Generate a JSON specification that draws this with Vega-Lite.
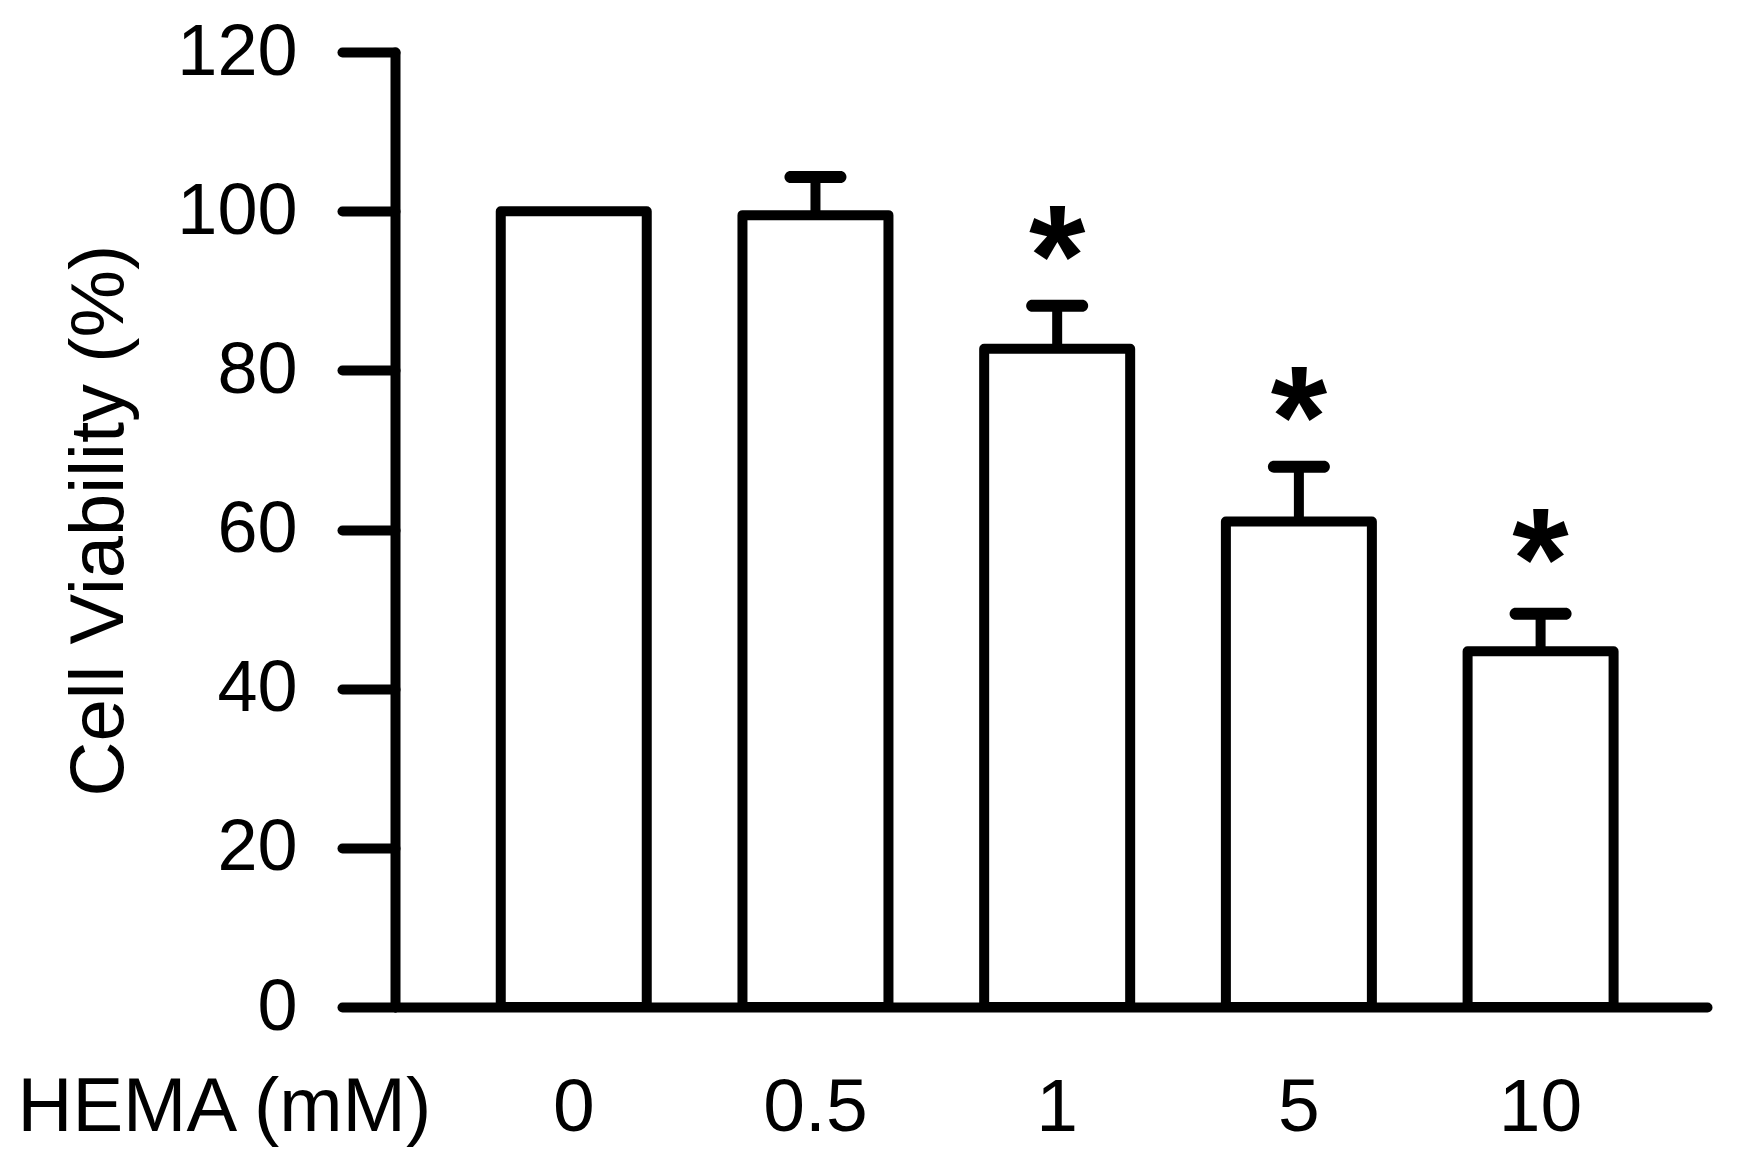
{
  "$schema": "https://vega.github.io/schema/vega-lite/v6.json",
  "autosize": {"type": "none"},
  "width": 1312,
  "height": 955,
  "padding": {"left": 395, "top": 52, "right": 37, "bottom": 156},
  "background": "white",
  "config": {
    "view": {"stroke": null},
    "font": "Liberation Sans",
    "axis": {"grid": false, "domainColor": "black", "tickColor": "black", "labelColor": "black", "titleColor": "black", "labelFont": "Liberation Sans", "titleFont": "Liberation Sans", "titleFontWeight": "normal"}
  },
  "data": {
    "values": [
      {"dose": "0", "viability": 100, "upper": null, "star": null},
      {"dose": "0.5", "viability": 99.5, "upper": 104.3, "star": null},
      {"dose": "1", "viability": 82.7, "upper": 88.1, "star": 97.3},
      {"dose": "5", "viability": 61.0, "upper": 67.9, "star": 77.0},
      {"dose": "10", "viability": 44.7, "upper": 49.4, "star": 59.2}
    ]
  },
  "encoding": {
    "x": {
      "field": "dose",
      "type": "nominal",
      "sort": ["0", "0.5", "1", "5", "10"],
      "scale": {"paddingInner": 0.396, "paddingOuter": 0.412, "align": 0.531},
      "axis": {
        "title": "HEMA (mM)",
        "titleX": -378,
        "titleY": 123,
        "titleAlign": "left",
        "titleBaseline": "alphabetic",
        "titleFontSize": 76,
        "labelFontSize": 75,
        "labelAngle": 0,
        "labelBaseline": "alphabetic",
        "labelPadding": 123,
        "ticks": false,
        "tickSize": 0,
        "domainWidth": 10,
        "domainCap": "round"
      }
    }
  },
  "layer": [
    {
      "mark": {"type": "bar", "fill": "white", "stroke": "black", "strokeWidth": 10, "strokeJoin": "round"},
      "encoding": {
        "y": {
          "field": "viability",
          "type": "quantitative",
          "scale": {"domain": [0, 120], "nice": false},
          "axis": {
            "title": "Cell Viability (%)",
            "titleX": -273,
            "titleY": 468,
            "titleAngle": -90,
            "titleAlign": "center",
            "titleBaseline": "alphabetic",
            "titleFontSize": 76,
            "values": [0, 20, 40, 60, 80, 100, 120],
            "labelFontSize": 72,
            "labelPadding": 45,
            "tickSize": 53,
            "tickWidth": 10,
            "tickCap": "round",
            "domainWidth": 10,
            "domainCap": "round"
          }
        }
      }
    },
    {
      "transform": [{"filter": "datum.upper != null"}],
      "mark": {"type": "rule", "color": "black", "strokeWidth": 10},
      "encoding": {
        "y": {"field": "viability", "type": "quantitative"},
        "y2": {"field": "upper"}
      }
    },
    {
      "transform": [{"filter": "datum.upper != null"}],
      "mark": {"type": "tick", "color": "black", "thickness": 12, "size": 62, "cornerRadius": 6, "opacity": 1},
      "encoding": {
        "y": {"field": "upper", "type": "quantitative"}
      }
    },
    {
      "transform": [{"filter": "datum.star != null"}],
      "mark": {"type": "text", "text": "*", "fontSize": 145, "fontWeight": "bold", "font": "Liberation Sans", "baseline": "alphabetic", "align": "center", "dy": 73, "color": "black"},
      "encoding": {
        "y": {"field": "star", "type": "quantitative"}
      }
    }
  ]
}
